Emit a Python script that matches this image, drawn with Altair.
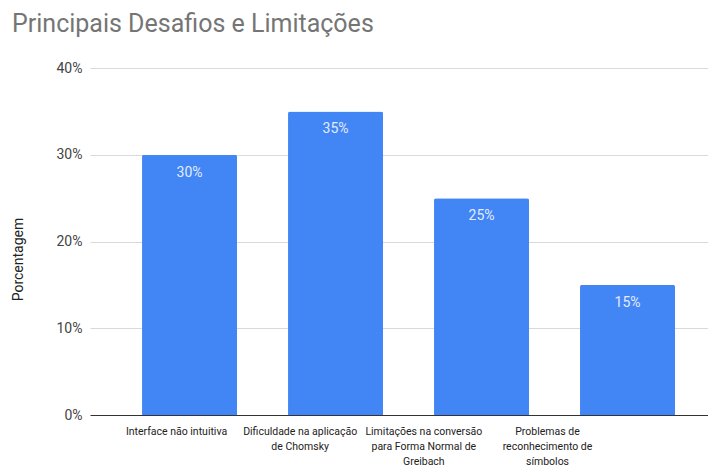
import altair as alt
import pandas as pd

categories = [
    "Interface não intuitiva",
    "Dificuldade na aplicação de Chomsky",
    "Limitações na conversão para Forma Normal de Greibach",
    "Problemas de reconhecimento de símbolos",
]
label_lines = [
    "Interface não intuitiva",
    "Dificuldade na aplicação\nde Chomsky",
    "Limitações na conversão\npara Forma Normal de\nGreibach",
    "Problemas de\nreconhecimento de\nsímbolos",
]
values = [0.30, 0.35, 0.25, 0.15]
y_ticks = [0.0, 0.1, 0.2, 0.3, 0.4]

df = pd.DataFrame({"cat": categories, "label": label_lines, "value": values})

W, H = 618, 347

x_bar = alt.X(
    "cat:N",
    sort=categories,
    scale=alt.Scale(type="band", paddingInner=0.3493, paddingOuter=0.2911, align=0.612),
    axis=None,
)
y_enc = alt.Y(
    "value:Q",
    scale=alt.Scale(domain=[0, 0.4], nice=False),
    axis=alt.Axis(
        values=y_ticks,
        format=".0%",
        title="Porcentagem",
        domain=False,
        ticks=False,
        labelPadding=8,
        labelFont="Roboto",
        labelFontSize=14,
        labelColor="#444444",
        grid=True,
        gridColor=alt.condition("datum.value == 0", alt.value("#333333"), alt.value("#d9d9d9")),
        gridWidth=1,
        titleFont="Roboto",
        titleFontSize=14,
        titleFontWeight="normal",
        titleColor="#222222",
        titleAngle=270,
        titleX=-65,
        titleY=191,
        titleBaseline="bottom",
        titleAlign="center",
    ),
)

bars = alt.Chart(df).mark_bar(
    color="#4285F4", cornerRadiusTopLeft=2, cornerRadiusTopRight=2
).encode(x=x_bar, y=y_enc)

bar_text = alt.Chart(df).mark_text(
    baseline="middle", align="center", dy=18, font="Roboto", fontSize=14, color="#e3ecfd"
).encode(x=x_bar, y=alt.Y("value:Q"), text=alt.Text("value:Q", format=".0%"))

bar_layer = alt.layer(bars, bar_text)

xlabels = alt.Chart(df).mark_text(
    baseline="alphabetic", align="center", lineBreak="\n", lineHeight=15,
    font="Roboto", fontSize=10.5, color="#222222"
).encode(
    x=alt.X("cat:N", sort=categories,
            scale=alt.Scale(type="point", range=[86.5, 457.5], padding=0), axis=None),
    y=alt.value(H + 19.5),
    text="label:N",
)

chart = alt.layer(bar_layer, xlabels).resolve_scale(x="independent").properties(
    width=W,
    height=H,
    autosize=alt.AutoSizeParams(type="none"),
    padding={"left": 82, "top": 60, "right": 0, "bottom": 53},
    title=alt.TitleParams(
        "Principais Desafios e Limitações",
        anchor="start",
        frame="group",
        font="Roboto",
        fontSize=25,
        fontWeight="normal",
        color="#757575",
        baseline="alphabetic",
        offset=36,
        dx=-78,
        dy=32,
    ),
).configure_view(stroke=None)

chart.save("out.html", embed_options={"renderer": "svg", "actions": False})
